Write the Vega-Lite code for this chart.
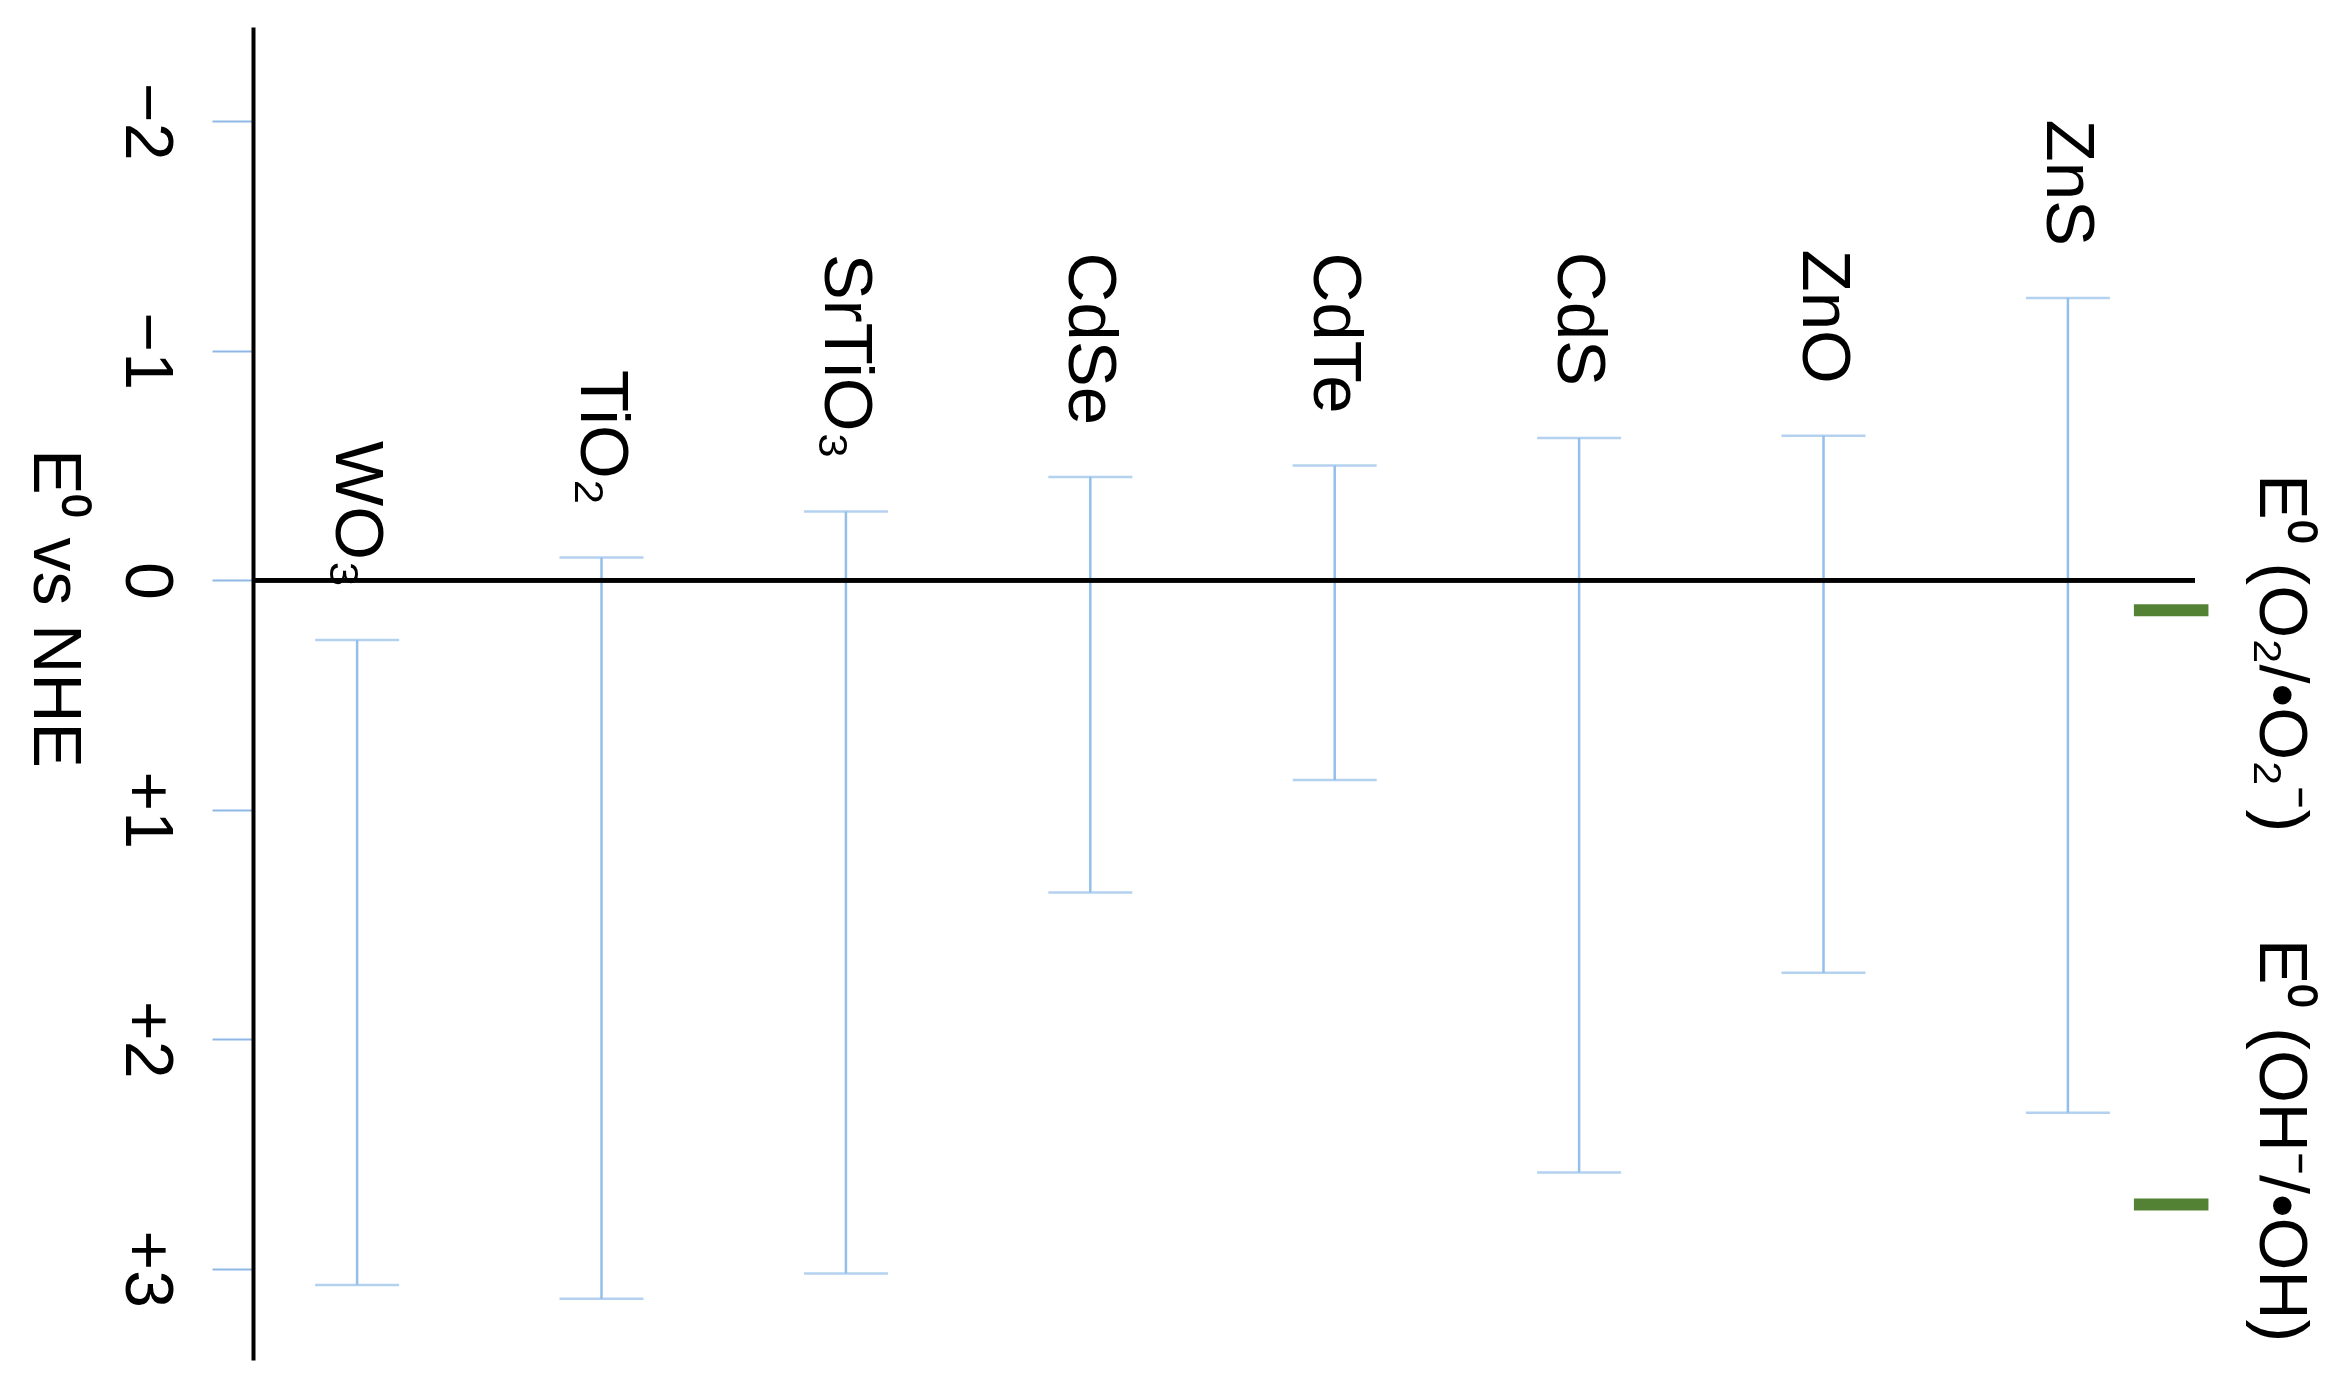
{
  "$schema": "https://vega.github.io/schema/vega-lite/v6.json",
  "width": 1942,
  "height": 1333,
  "autosize": {"type": "none"},
  "padding": {"left": 253, "top": 27, "right": 142, "bottom": 29},
  "background": "white",
  "config": {"view": {"stroke": null}, "font": "Liberation Sans"},
  "datasets": {
    "materials": [
      {"material": "WO₃", "slot": 1, "cb": 0.26, "vb": 3.07},
      {"material": "TiO₂", "slot": 2, "cb": -0.10, "vb": 3.13},
      {"material": "SrTiO₃", "slot": 3, "cb": -0.30, "vb": 3.02},
      {"material": "CdSe", "slot": 4, "cb": -0.45, "vb": 1.36},
      {"material": "CdTe", "slot": 5, "cb": -0.50, "vb": 0.87},
      {"material": "CdS", "slot": 6, "cb": -0.62, "vb": 2.58},
      {"material": "ZnO", "slot": 7, "cb": -0.63, "vb": 1.71},
      {"material": "ZnS", "slot": 8, "cb": -1.23, "vb": 2.32}
    ],
    "refs": [
      {"couple": "E⁰ (O₂/•O₂⁻)", "E": 0.13},
      {"couple": "E⁰ (OH⁻/•OH)", "E": 2.72}
    ]
  },
  "layer": [
    {
      "data": {"name": "materials"},
      "mark": {"type": "rule", "color": "#94bfea", "strokeWidth": 2.5},
      "encoding": {
        "x": {"field": "slot", "type": "quantitative", "scale": {"domain": [0.574, 8.52], "nice": false, "zero": false}, "axis": null},
        "y": {
          "field": "cb", "type": "quantitative",
          "scale": {"domain": [-2.411, 3.397], "nice": false, "zero": false, "reverse": true},
          "axis": {
            "values": [-2, -1, 0, 1, 2, 3],
            "labelExpr": "datum.value > 0 ? '+' + datum.value : (datum.value < 0 ? '−' + abs(datum.value) : '0')",
            "labelAngle": 90,
            "labelAlign": "center",
            "labelBaseline": "top",
            "labelFontSize": 68,
            "labelFont": "Liberation Sans",
            "labelColor": "black",
            "labelPadding": 33,
            "labelOverlap": false,
            "labelFlush": false,
            "labelBound": false,
            "tickSize": 41,
            "tickColor": "#8fb8e6",
            "tickWidth": 2,
            "domainColor": "black",
            "domainWidth": 4,
            "grid": false,
            "title": "E⁰ vs NHE",
            "titleAngle": 90,
            "titleFontSize": 68,
            "titleFont": "Liberation Sans",
            "titleFontWeight": "normal",
            "titleColor": "black",
            "titleX": -200,
            "titleY": 581,
            "titleAlign": "center",
            "titleBaseline": "middle"
          }
        },
        "y2": {"field": "vb"}
      }
    },
    {
      "data": {"name": "materials"},
      "mark": {"type": "rule", "color": "black", "strokeWidth": 4},
      "encoding": {
        "y": {"datum": 0, "type": "quantitative", "scale": {"domain": [-2.411, 3.397], "nice": false, "zero": false, "reverse": true}}
      }
    },
    {
      "data": {"name": "materials"},
      "mark": {"type": "tick", "orient": "horizontal", "color": "#94bfea", "size": 84, "thickness": 2.5},
      "encoding": {
        "x": {"field": "slot", "type": "quantitative", "scale": {"domain": [0.574, 8.52], "nice": false, "zero": false}},
        "y": {"field": "cb", "type": "quantitative", "scale": {"domain": [-2.411, 3.397], "nice": false, "zero": false, "reverse": true}}
      }
    },
    {
      "data": {"name": "materials"},
      "mark": {"type": "tick", "orient": "horizontal", "color": "#94bfea", "size": 84, "thickness": 2.5},
      "encoding": {
        "x": {"field": "slot", "type": "quantitative", "scale": {"domain": [0.574, 8.52], "nice": false, "zero": false}},
        "y": {"field": "vb", "type": "quantitative", "scale": {"domain": [-2.411, 3.397], "nice": false, "zero": false, "reverse": true}}
      }
    },
    {
      "data": {"name": "materials"},
      "mark": {"type": "text", "angle": 90, "align": "right", "baseline": "middle", "dx": -52, "fontSize": 69, "font": "Liberation Sans", "color": "black"},
      "encoding": {
        "x": {"field": "slot", "type": "quantitative", "scale": {"domain": [0.574, 8.52], "nice": false, "zero": false}},
        "y": {"field": "cb", "type": "quantitative", "scale": {"domain": [-2.411, 3.397], "nice": false, "zero": false, "reverse": true}},
        "text": {"field": "material"}
      }
    },
    {
      "data": {"name": "refs"},
      "mark": {"type": "rule", "color": "#548235", "strokeWidth": 12, "strokeCap": "butt"},
      "encoding": {
        "x": {"datum": 8.27, "type": "quantitative", "scale": {"domain": [0.574, 8.52], "nice": false, "zero": false}},
        "x2": {"datum": 8.575},
        "y": {"field": "E", "type": "quantitative", "scale": {"domain": [-2.411, 3.397], "nice": false, "zero": false, "reverse": true}}
      }
    },
    {
      "data": {"name": "refs"},
      "transform": [{"filter": {"field": "couple", "equal": "E⁰ (O₂/•O₂⁻)"}}],
      "mark": {"type": "text", "angle": 90, "align": "center", "baseline": "middle", "dx": 43, "fontSize": 68, "font": "Liberation Sans", "color": "black"},
      "encoding": {
        "x": {"datum": 8.867, "type": "quantitative", "scale": {"domain": [0.574, 8.52], "nice": false, "zero": false}},
        "y": {"field": "E", "type": "quantitative", "scale": {"domain": [-2.411, 3.397], "nice": false, "zero": false, "reverse": true}},
        "text": {"field": "couple"}
      }
    },
    {
      "data": {"name": "refs"},
      "transform": [{"filter": {"field": "couple", "equal": "E⁰ (OH⁻/•OH)"}}],
      "mark": {"type": "text", "angle": 90, "align": "center", "baseline": "middle", "dx": -64, "fontSize": 68, "font": "Liberation Sans", "color": "black"},
      "encoding": {
        "x": {"datum": 8.867, "type": "quantitative", "scale": {"domain": [0.574, 8.52], "nice": false, "zero": false}},
        "y": {"field": "E", "type": "quantitative", "scale": {"domain": [-2.411, 3.397], "nice": false, "zero": false, "reverse": true}},
        "text": {"field": "couple"}
      }
    }
  ]
}
